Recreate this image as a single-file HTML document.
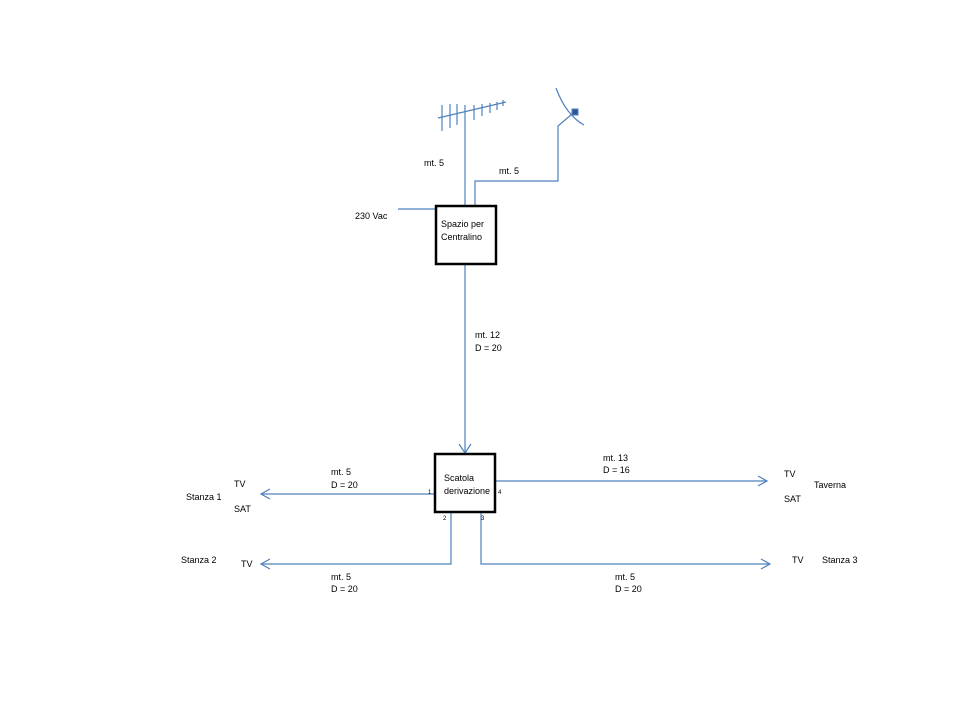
<!DOCTYPE html>
<html><head><style>
html,body{margin:0;padding:0;background:#fff;}
svg{display:block;}
text{font-family:"Liberation Sans",sans-serif;font-size:9px;fill:#000;}
.s{font-size:6px;}
</style></head><body>
<svg width="960" height="720" viewBox="0 0 960 720">
<g stroke="#4f81bd" stroke-width="1.2" fill="none">
<!-- antenna -->
<line x1="465" y1="105" x2="465" y2="205"/>
<line x1="438" y1="118" x2="506" y2="102"/>
<line x1="442" y1="105" x2="442" y2="131"/>
<line x1="450" y1="104" x2="450" y2="128"/>
<line x1="457" y1="104" x2="457" y2="125"/>
<line x1="474" y1="105" x2="474" y2="120"/>
<line x1="482" y1="104" x2="482" y2="116"/>
<line x1="490" y1="103" x2="490" y2="113"/>
<line x1="497" y1="102" x2="497" y2="110"/>
<line x1="503" y1="100" x2="503" y2="106"/>
<!-- dish -->
<path d="M556,88 Q566,115 584,125"/>
<polyline points="475,205 475,181 558,181 558,126 572,114"/>
<line x1="398" y1="209" x2="435" y2="209"/>
<!-- main down -->
<line x1="465" y1="265" x2="465" y2="453"/>
<polyline points="459,444 465,453 471,444"/>
<!-- outputs -->
<line x1="434" y1="494" x2="261" y2="494"/>
<polyline points="270,489 261,494 270,499"/>
<line x1="496" y1="481" x2="767" y2="481"/>
<polyline points="758,476 767,481 758,486"/>
<polyline points="451,513 451,564 261,564"/>
<polyline points="270,559 261,564 270,569"/>
<polyline points="481,513 481,564 770,564"/>
<polyline points="761,559 770,564 761,569"/>
</g>
<rect x="572" y="109" width="6" height="6" fill="#2f5597" stroke="#4f81bd"/>
<rect x="436" y="206" width="60" height="58" fill="#fff" stroke="#000" stroke-width="2.5"/>
<rect x="435" y="454" width="60" height="58" fill="#fff" stroke="#000" stroke-width="2.5"/>
<text x="441" y="227">Spazio per</text>
<text x="441" y="240">Centralino</text>
<text x="444" y="481">Scatola</text>
<text x="444" y="494">derivazione</text>
<text class="s" x="428" y="494">1</text>
<text class="s" x="498" y="494">4</text>
<text class="s" x="443" y="520">2</text>
<text class="s" x="481" y="520">3</text>
<text x="424" y="166">mt. 5</text>
<text x="499" y="174">mt. 5</text>
<text x="355" y="219">230 Vac</text>
<text x="475" y="338">mt. 12</text>
<text x="475" y="351">D = 20</text>
<text x="331" y="475">mt. 5</text>
<text x="331" y="488">D = 20</text>
<text x="603" y="461">mt. 13</text>
<text x="603" y="473">D = 16</text>
<text x="331" y="580">mt. 5</text>
<text x="331" y="592">D = 20</text>
<text x="615" y="580">mt. 5</text>
<text x="615" y="592">D = 20</text>
<text x="234" y="487">TV</text>
<text x="186" y="500">Stanza 1</text>
<text x="234" y="512">SAT</text>
<text x="181" y="563">Stanza 2</text>
<text x="241" y="567">TV</text>
<text x="784" y="477">TV</text>
<text x="814" y="488">Taverna</text>
<text x="784" y="502">SAT</text>
<text x="792" y="563">TV</text>
<text x="822" y="563">Stanza 3</text>
</svg>
</body></html>
